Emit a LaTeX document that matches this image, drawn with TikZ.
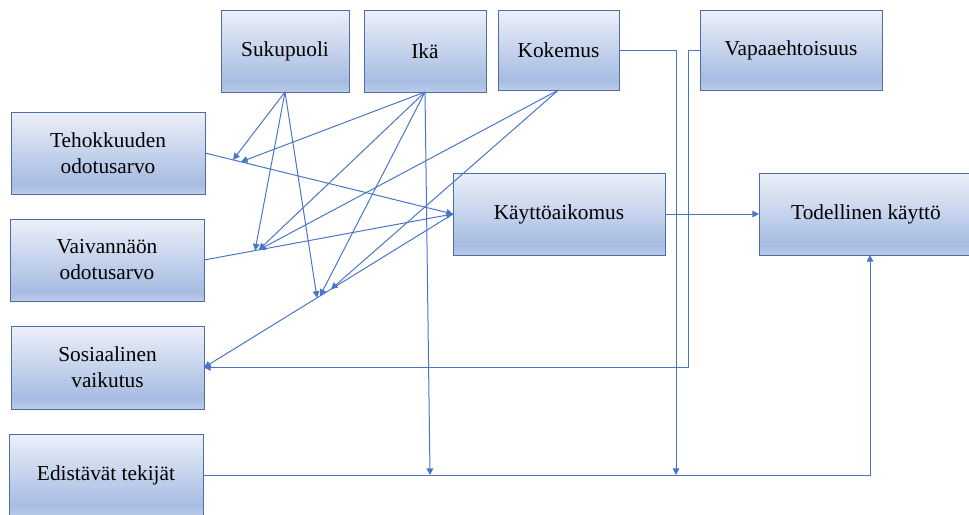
\documentclass[tikz,border=0pt]{standalone}
\usepackage{fontspec}
\setmainfont{Liberation Serif}
\newfontfamily\boxfont{Liberation Serif}
\usetikzlibrary{arrows.meta,calc}

\definecolor{boxtop}{RGB}{236,240,249}
\definecolor{boxmid}{RGB}{166,188,226}
\definecolor{boxbot}{RGB}{188,204,234}
\definecolor{boxedge}{RGB}{78,108,165}
\definecolor{linkblue}{RGB}{75,118,200}

% light top, darker towards the bottom, with a thin lighter band at the foot
\pgfdeclareverticalshading{boxfade}{100bp}{color(0bp)=(boxbot); color(25bp)=(boxbot); color(31bp)=(boxmid); color(75bp)=(boxtop); color(100bp)=(boxtop)}

\begin{document}
\begin{tikzpicture}[x=0.75pt,y=-0.75pt,
  box/.style={draw=boxedge, line width=0.7pt, shading=boxfade, inner sep=0pt,
    outer sep=0pt, align=center, font=\boxfont\fontsize{16}{19.5}\selectfont,
    minimum height=61.5pt},
  link/.style={draw=linkblue, line width=0.75pt, -{Triangle[length=5pt,width=5pt]}}]
\useasboundingbox (0,0) rectangle (969,514);

% moderators
\node[box, minimum width=96pt] (suk) at (285,51) {Sukupuoli};
\node[box, minimum width=91.5pt] (ika) at (425,51) {Ikä};
\node[box, minimum width=90.75pt, minimum height=60pt] (kok) at (558.5,50) {Kokemus};
\node[box, minimum width=136.5pt, minimum height=60pt] (vap) at (791,50) {Vapaaehtoisuus};

% determinants
\node[box, minimum width=145.5pt] (teh) at (108,153) {Tehokkuuden\\odotusarvo};
\node[box, minimum width=145.5pt] (vai) at (107,260) {Vaivannäön\\odotusarvo};
\node[box, minimum width=144.75pt, minimum height=62.25pt] (sos) at (107.5,367.5) {Sosiaalinen\\vaikutus};
\node[box, minimum width=145.5pt] (edi) at (106,475) {Edistävät tekijät};

% outcomes
\node[box, minimum width=159pt] (kay) at (559,214) {Käyttöaikomus};
\node[box, minimum width=160.5pt] (tod) at (866,214) {Todellinen käyttö};

% main paths
\draw[link] (teh.east) -- (kay.west);
\draw[link] (vai.east) -- (kay.west);
\draw[link] (kay.west) -- (sos.east);
\draw[link] (kay.east) -- (tod.west);

% points where moderating arrows meet the paths
\coordinate (pe1) at ($(teh.east)!0.113!(kay.west)$);
\coordinate (pe2) at ($(teh.east)!0.145!(kay.west)$);
\coordinate (ee1) at ($(vai.east)!0.205!(kay.west)$);
\coordinate (ee2) at ($(vai.east)!0.220!(kay.west)$);
\coordinate (si1) at ($(kay.west)!0.546!(sos.east)$);
\coordinate (si2) at ($(kay.west)!0.534!(sos.east)$);
\coordinate (si3) at ($(kay.west)!0.490!(sos.east)$);
\coordinate (fa) at (430,475);
\coordinate (fb) at (676,475);
\coordinate (vturn) at (688,367.5);
\coordinate (usein) at ([xshift=3pt]tod.south);

% facilitating conditions to actual use
\draw[link] (edi.east) -| (usein);

% gender
\draw[link] (suk.south) -- (pe1);
\draw[link] (suk.south) -- (ee1);
\draw[link] (suk.south) -- (si1);

% age
\draw[link] (ika.south) -- (pe2);
\draw[link] (ika.south) -- (ee2);
\draw[link] (ika.south) -- (si2);
\draw[link] (ika.south) -- (fa);

% experience
\draw[link] (kok.south) -- (ee2);
\draw[link] (kok.south) -- (si3);
\draw[link] (kok.east) -| (fb);

% voluntariness
\draw[link] (vap.west) -| (vturn) -- (sos.east);
\end{tikzpicture}
\end{document}
